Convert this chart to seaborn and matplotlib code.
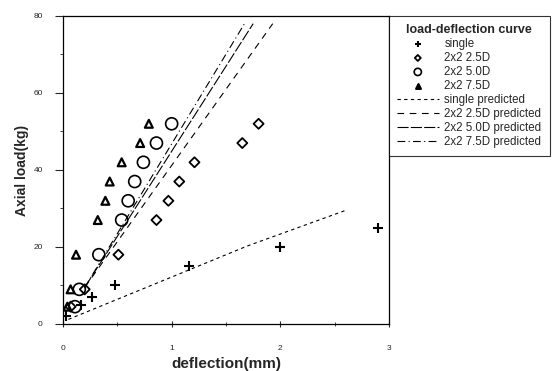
import numpy as np
import pandas as pd
import matplotlib
matplotlib.use("Agg")
import matplotlib.pyplot as plt
import seaborn as sns

single_x = [0.03, 0.17, 0.27, 0.48, 1.16, 2.0, 2.9]
single_y = [2, 5, 7, 10, 15, 20, 25]
d25_x = [0.07, 0.2, 0.51, 0.86, 0.97, 1.07, 1.21, 1.65, 1.8]
d25_y = [4.5, 9, 18, 27, 32, 37, 42, 47, 52]
d50_x = [0.11, 0.15, 0.33, 0.54, 0.6, 0.66, 0.74, 0.86, 1.0]
d50_y = [4.5, 9, 18, 27, 32, 37, 42, 47, 52]
d75_x = [0.04, 0.07, 0.12, 0.32, 0.39, 0.43, 0.54, 0.71, 0.79]
d75_y = [4.5, 9, 18, 27, 32, 37, 42, 47, 52]

# predicted curves (end points)
pred_single_x = [0.05, 1.7, 2.6]
pred_single_y = [1.2, 20.3, 29.5]
pred25_x = [0.2, 1.93]
pred25_y = [9.5, 78]
pred50_x = [0.2, 1.75]
pred50_y = [9.5, 78]
pred75_x = [0.2, 1.67]
pred75_y = [9.5, 78]

sns.set_style("ticks")
plt.rcParams['font.family'] = ['Liberation Sans', 'DejaVu Sans']

fig = plt.figure(figsize=(5.56, 3.71), dpi=100)
ax = fig.add_axes([0.1133, 0.1267, 0.5863, 0.8302])

# --- observed points ---
sns.scatterplot(x=single_x, y=single_y, marker='+', s=55, color='black',
                linewidth=1.5, ax=ax, label='single')
sns.scatterplot(x=d25_x, y=d25_y, marker='D', s=26, facecolors='none',
                edgecolors='black', linewidth=1.3, ax=ax, label='2x2 2.5D')
sns.scatterplot(x=d50_x, y=d50_y, marker='o', s=75, facecolors='none',
                edgecolors='black', linewidth=1.2, ax=ax, label='2x2 5.0D')
sns.scatterplot(x=d75_x, y=d75_y, marker='^', s=32, facecolors='none',
                edgecolors='black', linewidth=1.6, ax=ax, label='2x2 7.5D')

# --- predicted lines ---
sns.lineplot(x=pred_single_x, y=pred_single_y, color='black', lw=0.8,
             linestyle=(0, (3, 3)), ax=ax, label='single predicted')
sns.lineplot(x=pred25_x, y=pred25_y, color='black', lw=0.8,
             linestyle=(0, (6, 5)), ax=ax, label='2x2 2.5D predicted')
sns.lineplot(x=pred50_x, y=pred50_y, color='black', lw=0.8,
             linestyle=(0, (10, 2)), ax=ax, label='2x2 5.0D predicted')
sns.lineplot(x=pred75_x, y=pred75_y, color='black', lw=0.8,
             linestyle=(0, (7, 3, 1, 3)), ax=ax, label='2x2 7.5D predicted')

ax.set_xlim(0, 3)
ax.set_ylim(0, 80)
ax.set_xticks([0, 1, 2, 3])
ax.set_xticks([0.5, 1.5, 2.5], minor=True)
ax.set_yticks([0, 20, 40, 60, 80])
ax.set_yticks([10, 30, 50, 70], minor=True)
ax.tick_params(axis='y', which='major', direction='out', length=5.5, width=0.8,
               labelsize=6, pad=9)
ax.tick_params(axis='y', which='minor', direction='out', length=2.5, width=0.6)
ax.tick_params(axis='x', which='major', direction='inout', length=4, width=0.8,
               labelsize=6, pad=13)
ax.tick_params(axis='x', which='minor', direction='inout', length=3, width=0.6)
for s in ax.spines.values():
    s.set_linewidth(0.9)
    s.set_color('black')

ax.set_xlabel('deflection(mm)', fontsize=11, fontweight='bold', labelpad=4)
ax.set_ylabel('Axial load(kg)', fontsize=10, fontweight='bold', labelpad=3)

leg = ax.legend(loc='upper left', bbox_to_anchor=(1.0, 1.0), borderaxespad=0,
                fontsize=8.3, title='load-deflection curve', frameon=True,
                fancybox=False, edgecolor='black', handlelength=3.6,
                handletextpad=0.5, labelspacing=0.17, borderpad=0.7,
                markerscale=0.6)
leg.get_title().set_fontweight('bold')
leg.get_title().set_fontsize(9)
leg.get_frame().set_linewidth(0.8)
# the triangle is shown filled in the legend key
leg.legend_handles[3].set_facecolor('black')

fig.savefig('out.png', dpi=100)
